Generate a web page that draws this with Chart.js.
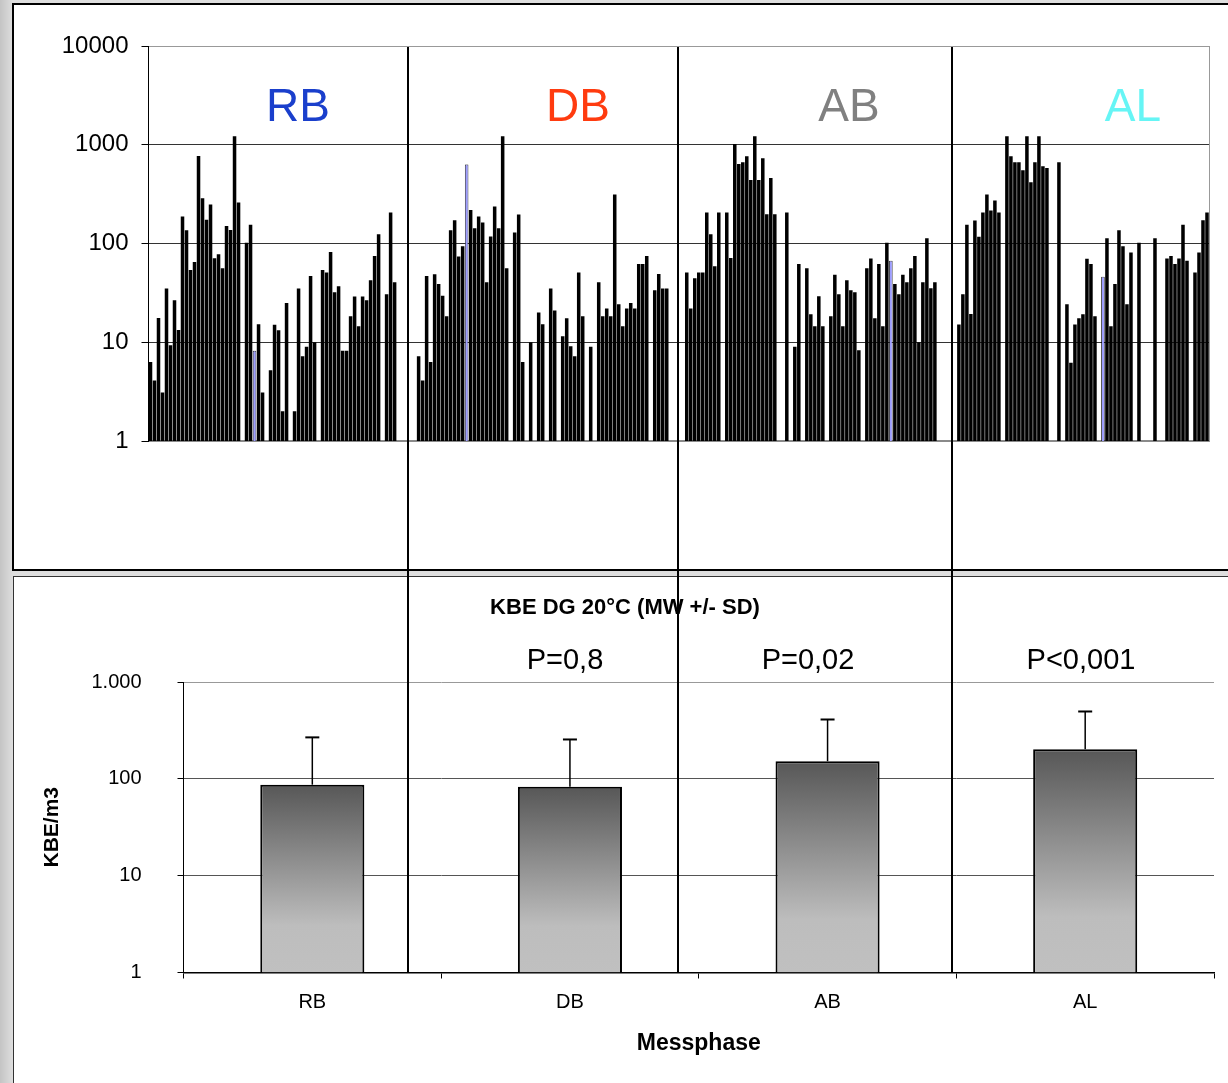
<!DOCTYPE html>
<html>
<head>
<meta charset="utf-8">
<script src="https://cdn.jsdelivr.net/npm/chart.js@4.4.0/dist/chart.umd.min.js"></script>
<style>
  html, body { margin: 0; padding: 0; }
  body {
    width: 1228px; height: 1083px; overflow: hidden; position: relative;
    background: linear-gradient(to right, #c4c4c4 0, #dedede 13px, #dedede 100%);
    font-family: "Liberation Sans", Arial, sans-serif;
  }
  .panel { position: absolute; background: #fff; box-sizing: border-box; }
  #topPanel { left: 12px; top: 3px; width: 1240px; height: 568px; border: 2px solid #000; }
  #botPanel { left: 13px; top: 576px; width: 1240px; height: 530px; border: 1px solid #333; }
  .wrap { position: absolute; }
  .lbl { position: absolute; transform: translate(-50%, -50%); white-space: nowrap; line-height: 1; }
  .section { font-size: 46px; }
  .pval { font-size: 29px; color: #000; }
  .divider { position: absolute; top: 47px; height: 926px; width: 1.5px; background: #000; }
</style>
</head>
<body>
<div class="panel" id="topPanel"></div>
<div class="panel" id="botPanel"></div>
<div class="wrap" style="left:14px;top:5px;width:1214px;height:565px"><canvas id="topChart"></canvas></div>
<div class="wrap" style="left:15px;top:578px;width:1213px;height:505px"><canvas id="botChart"></canvas></div>

<div class="lbl section" style="left:298px;top:105px;color:#1a3fcc">RB</div>
<div class="lbl section" style="left:578px;top:105px;color:#ff3b0f">DB</div>
<div class="lbl section" style="left:849px;top:105px;color:#808080">AB</div>
<div class="lbl section" style="left:1133px;top:105px;color:#66f5f5">AL</div>

<div class="lbl" style="left:625px;top:607px;font-size:22px;font-weight:bold">KBE DG 20°C (MW +/- SD)</div>
<div class="lbl pval" style="left:565px;top:659px">P=0,8</div>
<div class="lbl pval" style="left:808px;top:659px">P=0,02</div>
<div class="lbl pval" style="left:1081px;top:659px">P&lt;0,001</div>

<div class="divider" style="left:407px"></div>
<div class="divider" style="left:677px"></div>
<div class="divider" style="left:951px"></div>

<script>
// ===== DATA: single measurements per slot (null = no value) =====
const rbValues = [6.3, 4.1, 17.6, 3.1, 35, 9.3, 26.7, 13.3, 188, 136, 54, 65, 770, 287, 174, 248, 71, 78, 56, 150, 137, 1220, 260, null,
  102, 155, 8.2, 15.2, 3.1, null, 5.2, 15, 13.2, 2.0, 25, null, 2.0, 35, 7.2, 9.0, 47, 10, null,
  54, 51, 82, 32, 37, 8.2, 8.2, 18.3, 29, 14.5, 29, 26.6, 42.5, 74.5, 124, null, 30.6, 206, 40.6, null, null, null, null];
const dbValues = [null, 7.2, 4.1, 46.8, 6.3, 48.7, 38.9, 29.5, 18.3, 136, 172, 74, 94, 630, 218, 143, 188, 163, 40.6, 118, 237, 143, 1220, 56, null,
  129, 197, 6.3, null, 10, null, 20, 15.2, null, 35, 21, null, 11.5, 17.5, 9.1, 7.2, 51, 18.3, null, 9.0, null,
  40.6, 18.3, 22, 18.3, 313, 24.2, 14.5, 22, 25, 22, 62, 62, 74.5, null, 33.6, 49, 35, 35, null, null, null, null];
const abValues = [51, 22, 44.6, 51, 51, 206, 124, 59, 206, null, 206, 71.5, 1020, 640, 665, 765, 440, 1220, 440, 731, 198, 461, 198, null, null,
  206, null, 9.0, 62, null, 56, 19.2, 14.5, 29.2, 14.5, null, 18.3, 48.3, 30.6, 14.5, 42.4, 33.6, 32, 8.3, null,
  56, 70.4, 17.5, 62, 14.5, 102, 67, 38.9, 30.6, 48.3, 40.6, 56, 74.5, 10, 40.6, 113, 35.3, 40.6, null, null, null, null, null];
const alValues = [15.1, 30.6, 155, 19.3, 171, 117, 206, 313, 216, 273, 206, null, 1220, 765, 665, 665, 551, 1220, 416, 665, 1220, 605, 580, null, null,
  665, null, 24.2, 6.2, 15.1, 17.5, 19.2, 70, 62, 18.3, null, 46, 113, 14.5, 38.9, 136, 94, 24.2, 81, null,
  102, null, null, null, 113, null, null, 70.4, 74.5, 62, 70.4, 155, 67, null, 51, 81, 172, 206];
// highlighted (light blue) bar in each section, index inside the section
const rbMarked = 26, dbMarked = 13, abMarked = 51, alMarked = 36;

const topTicks = [1, 10, 100, 1000, 10000];
const topTickLabels = ['1', '10', '100', '1000', '10000'];

// summary chart
const phases = ['RB', 'DB', 'AB', 'AL'];
const meanValues = [87, 83, 152, 202];
const sdValues = [181, 172, 258, 294];
const botTicks = [1, 10, 100, 1000];
const botTickLabels = ['1', '10', '100', '1.000'];

const FONT = '"Liberation Sans", Arial, sans-serif';

// ===== TOP CHART =====
const slotValues = [...rbValues, ...dbValues, ...abValues, ...alValues];
const slotLabels = slotValues.map((_, i) => i + 1);
const o1 = rbValues.length, o2 = o1 + dbValues.length, o3 = o2 + abValues.length;
const markedSlots = [rbMarked, o1 + dbMarked, o2 + abMarked, o3 + alMarked];

new Chart(document.getElementById('topChart'), {
  type: 'bar',
  data: {
    labels: slotLabels,
    datasets: [{
      data: slotValues,
      backgroundColor: c => markedSlots.includes(c.dataIndex) ? '#9c9cff' : '#000',
      borderColor: '#000',
      borderWidth: c => markedSlots.includes(c.dataIndex) ? 0.8 : 0,
      barPercentage: 0.88,
      categoryPercentage: 1
    }]
  },
  options: {
    responsive: true, maintainAspectRatio: false, animation: false,
    layout: { padding: { top: 41, bottom: 129, left: 0, right: 19 } },
    plugins: { legend: { display: false }, tooltip: { enabled: false } },
    scales: {
      x: {
        ticks: { display: false },
        grid: { display: false },
        border: { color: '#8a8a8a', width: 2 },
        afterFit: s => { s.height = 0; }
      },
      y: {
        type: 'logarithmic', min: 1, max: 10000,
        afterBuildTicks: s => { s.ticks = topTicks.map(v => ({ value: v })); },
        ticks: { callback: v => topTickLabels[topTicks.indexOf(v)], color: '#000', font: { family: FONT, size: 24 }, padding: 13 },
        grid: {
          color: c => c.tick && c.tick.value === 10000 ? '#999' : (c.tick && c.tick.value === 1 ? 'rgba(0,0,0,0)' : '#333'),
          tickColor: '#000', tickLength: 7
        },
        border: { color: '#000' },
        afterFit: s => { s.width = 134.5; }
      },
      y2: {
        type: 'linear', position: 'right',
        ticks: { display: false }, grid: { display: false },
        border: { color: '#999' },
        afterFit: s => { s.width = 0; }
      }
    }
  }
});

// ===== SUMMARY CHART =====
function barGradient(c) {
  const chart = c.chart, area = chart.chartArea;
  if (!area) return '#999';
  const top = chart.scales.y.getPixelForValue(meanValues[c.dataIndex]);
  const g = chart.ctx.createLinearGradient(0, top, 0, area.bottom);
  g.addColorStop(0, '#575757');
  g.addColorStop(0.75, '#bdbdbd');
  g.addColorStop(1, '#c0c0c0');
  return g;
}

const errorBars = {
  id: 'errorBars',
  afterDatasetsDraw(chart) {
    const { ctx } = chart, y = chart.scales.y;
    const meta = chart.getDatasetMeta(0);
    ctx.save();
    ctx.strokeStyle = '#000';
    meta.data.forEach((bar, i) => {
      const top = y.getPixelForValue(meanValues[i] + sdValues[i]);
      ctx.lineWidth = 1.5;
      ctx.beginPath(); ctx.moveTo(bar.x, bar.y); ctx.lineTo(bar.x, top); ctx.stroke();
      ctx.lineWidth = 2;
      ctx.beginPath(); ctx.moveTo(bar.x - 7, top); ctx.lineTo(bar.x + 7, top); ctx.stroke();
    });
    ctx.restore();
  }
};

new Chart(document.getElementById('botChart'), {
  type: 'bar',
  data: {
    labels: phases,
    datasets: [{
      data: meanValues,
      backgroundColor: barGradient,
      borderColor: '#000',
      borderWidth: 2,
      barPercentage: 0.404,
      categoryPercentage: 1
    }]
  },
  options: {
    responsive: true, maintainAspectRatio: false, animation: false,
    layout: { padding: { top: 104, bottom: 0, left: 0, right: 14 } },
    plugins: { legend: { display: false }, tooltip: { enabled: false } },
    scales: {
      x: {
        grid: { display: true, drawOnChartArea: false, offset: true, color: '#000', tickLength: 6 },
        border: { color: '#000', width: 1.5 },
        ticks: { color: '#000', font: { family: FONT, size: 20 }, padding: 12 },
        title: { display: true, text: 'Messphase', color: '#000', font: { family: FONT, size: 23, weight: 'bold' }, padding: { top: 4, bottom: 26 } },
        afterFit: s => { s.height = 110.5; }
      },
      y: {
        type: 'logarithmic', min: 1, max: 1000,
        afterBuildTicks: s => { s.ticks = botTicks.map(v => ({ value: v })); },
        ticks: { callback: v => botTickLabels[botTicks.indexOf(v)], color: '#000', font: { family: FONT, size: 20 }, padding: 36 },
        grid: {
          color: c => c.tick && c.tick.value === 1000 ? '#999' : (c.tick && c.tick.value === 1 ? 'rgba(0,0,0,0)' : '#555'),
          tickColor: '#000', tickLength: 6
        },
        border: { color: '#000' },
        title: { display: true, text: 'KBE/m3', color: '#000', font: { family: FONT, size: 21, weight: 'bold' }, padding: { top: 25, bottom: 4 } },
        afterFit: s => { s.width = 168.5; }
      }
    }
  },
  plugins: [errorBars]
});
</script>
</body>
</html>
